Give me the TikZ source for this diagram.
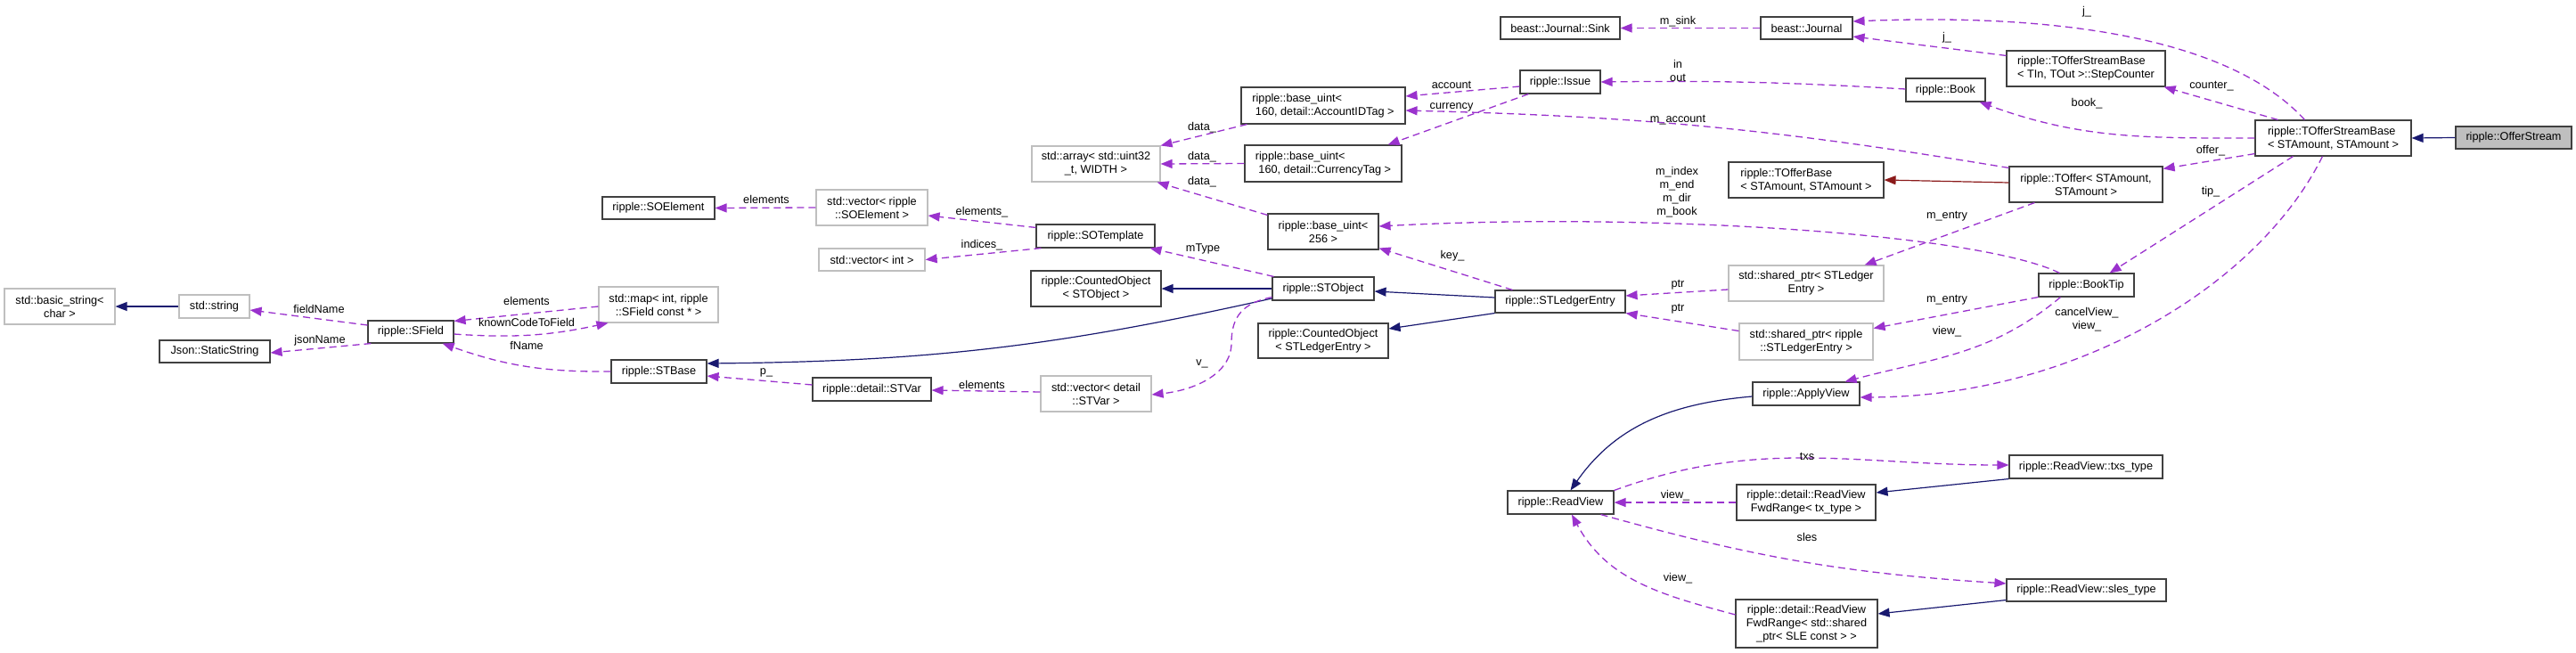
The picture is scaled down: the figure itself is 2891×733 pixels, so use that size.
\documentclass[tikz,border=0pt]{standalone}
\usepackage{fontspec}
\setmainfont{Liberation Sans}
\usetikzlibrary{arrows.meta}
\definecolor{navyc}{HTML}{191970}
\definecolor{purp}{HTML}{9A32CD}
\definecolor{fireb}{HTML}{8B1A1A}
\definecolor{greyl}{HTML}{BFBFBF}
\begin{document}
\begin{tikzpicture}[x=1pt,y=-1pt,
  every node/.style={font=\fontsize{12.7pt}{15pt}\selectfont},
  box/.style={draw=black!75, line width=1.1pt, fill=white, align=center, inner sep=2pt},
  gbox/.style={box, draw=greyl},
  lbox/.style={box, align=left},
  lbl/.style={inner sep=0pt, align=center},
  inh/.style={draw=navyc, line width=1.2pt, -{Triangle[length=13pt,width=10pt]}},
  usg/.style={draw=purp, line width=1.3pt, dash pattern=on 8pt off 5pt, -{Triangle[length=13pt,width=10pt]}},
  tpl/.style={draw=fireb, line width=1.2pt, -{Triangle[length=13pt,width=10pt]}}
]
\useasboundingbox (0,0) rectangle (2891,733);

% ---------------- nodes ----------------
\node[gbox, minimum width=124pt, minimum height=40pt] (bstr) at (67,344) {std::basic\_string<\\char >};
\node[gbox, minimum width=79pt, minimum height=26pt] (str) at (240.5,344) {std::string};
\node[box, minimum width=124pt, minimum height=25pt] (json) at (241,394.5) {Json::StaticString};
\node[box, minimum width=96pt, minimum height=25pt] (sfield) at (461,372.5) {ripple::SField};
\node[gbox, minimum width=134pt, minimum height=40pt] (smap) at (739,342) {std::map< int, ripple\\::SField const * >};
\node[box, minimum width=107pt, minimum height=26pt] (stbase) at (739.5,417) {ripple::STBase};
\node[box, minimum width=126pt, minimum height=25pt] (soel) at (739,233.5) {ripple::SOElement};
\node[gbox, minimum width=125pt, minimum height=40pt] (vsoel) at (978.5,233) {std::vector< ripple\\::SOElement >};
\node[gbox, minimum width=119pt, minimum height=25pt] (vint) at (978.5,291.5) {std::vector< int >};
\node[box, minimum width=133pt, minimum height=26pt] (sotmpl) at (1229.5,265) {ripple::SOTemplate};
\node[gbox, minimum width=144pt, minimum height=40pt] (arr) at (1230,184) {std::array< std::uint32\\\_t, WIDTH >};
\node[box, minimum width=146pt, minimum height=40pt] (cobj) at (1230,324) {ripple::CountedObject\\< STObject >};
\node[box, minimum width=133pt, minimum height=26pt] (stvar) at (978.5,437) {ripple::detail::STVar};
\node[gbox, minimum width=124pt, minimum height=40pt] (vstvar) at (1230,442) {std::vector< detail\\::STVar >};
\node[box, minimum width=114pt, minimum height=26pt] (stobj) at (1485,324) {ripple::STObject};
\node[box, minimum width=134pt, minimum height=25pt] (sink) at (1751,31.5) {beast::Journal::Sink};
\node[box, minimum width=103pt, minimum height=25pt] (journal) at (2027.5,31.5) {beast::Journal};
\node[box, minimum width=90pt, minimum height=26pt] (issue) at (1751,92) {ripple::Issue};
\node[lbox, minimum width=184pt, minimum height=41pt] (acct) at (1485,118.5) {ripple::base\_uint<\\\ 160, detail::AccountIDTag >};
\node[lbox, minimum width=176pt, minimum height=41pt] (curr) at (1485,183.5) {ripple::base\_uint<\\\ 160, detail::CurrencyTag >};
\node[box, minimum width=124pt, minimum height=40pt] (u256) at (1485,260) {ripple::base\_uint<\\256 >};
\node[box, minimum width=146pt, minimum height=25pt] (sle) at (1751,338.5) {ripple::STLedgerEntry};
\node[box, minimum width=146pt, minimum height=39pt] (cobjle) at (1485,382.5) {ripple::CountedObject\\< STLedgerEntry >};
\node[lbox, minimum width=174pt, minimum height=40pt] (tobase) at (2027,202) {ripple::TOfferBase\\< STAmount, STAmount >};
\node[gbox, minimum width=174pt, minimum height=40pt] (sptrle) at (2027,318) {std::shared\_ptr< STLedger\\Entry >};
\node[gbox, minimum width=150pt, minimum height=41pt] (sptrrle) at (2027,383.5) {std::shared\_ptr< ripple\\::STLedgerEntry >};
\node[box, minimum width=89pt, minimum height=26pt] (book) at (2183.5,101) {ripple::Book};
\node[lbox, minimum width=178pt, minimum height=40pt] (stepc) at (2341,77) {ripple::TOfferStreamBase\\< TIn, TOut >::StepCounter};
\node[lbox, minimum width=175pt, minimum height=40pt] (tosb) at (2618.5,155) {ripple::TOfferStreamBase\\< STAmount, STAmount >};
\node[box, fill=greyl, minimum width=130pt, minimum height=25pt] (ostream) at (2821,154.5) {ripple::OfferStream};
\node[box, minimum width=172pt, minimum height=40pt] (toffer) at (2341,207) {ripple::TOffer< STAmount,\\STAmount >};
\node[box, minimum width=107pt, minimum height=26pt] (booktip) at (2341.5,320) {ripple::BookTip};
\node[box, minimum width=120pt, minimum height=26pt] (applyv) at (2027,442) {ripple::ApplyView};
\node[box, minimum width=119pt, minimum height=26pt] (readv) at (1751.5,564) {ripple::ReadView};
\node[box, minimum width=156pt, minimum height=40pt] (fwdtx) at (2027,564) {ripple::detail::ReadView\\FwdRange< tx\_type >};
\node[box, minimum width=172pt, minimum height=26pt] (txst) at (2341,524) {ripple::ReadView::txs\_type};
\node[box, minimum width=179pt, minimum height=25pt] (slest) at (2341.5,662.5) {ripple::ReadView::sles\_type};
\node[box, minimum width=159pt, minimum height=54pt] (fwdsle) at (2027.5,700) {ripple::detail::ReadView\\FwdRange< std::shared\\\_ptr< SLE const > >};

% ---------------- edges ----------------
\draw[inh] (str.west) -- (bstr.east);
\draw[usg] ([yshift=7.5pt]sfield.west) -- ([yshift=-4pt]str.east);
\draw[usg] ([xshift=4pt]sfield.south west) -- ([yshift=-1.5pt]json.east);
\draw[usg] ([yshift=-2pt]smap.west) -- ([yshift=-1pt]sfield.north east);
\draw[usg] ([yshift=-2.5pt]sfield.east) to[bend right=8] ([xshift=11pt]smap.south west);
\draw[usg] (stbase.west) to[bend left=10] ([xshift=-13pt]sfield.south east);
\draw[usg] (vsoel.west) -- (soel.east);
\draw[usg] ([yshift=-4pt]sotmpl.north west) -- ([yshift=-9pt]vsoel.east);
\draw[usg] ([xshift=6pt]sotmpl.south west) -- (vint.east);
\draw[usg] ([xshift=2pt]stobj.north west) -- ([xshift=-6pt]sotmpl.south east);
\draw[inh] (stobj.west) -- (cobj.east);
\draw[inh] ([yshift=-11pt]stobj.west) to[bend left=6] ([yshift=9pt]stbase.east);
\draw[usg] ([yshift=5pt]stvar.west) -- ([yshift=-5pt]stbase.east);
\draw[usg] ([yshift=2pt]vstvar.west) -- ([yshift=-1pt]stvar.east);
\draw[usg] ([yshift=4pt]stobj.south west) .. controls (1395,340) and (1382,355) .. (1382,385)
   .. controls (1382,420) and (1340,438) .. ([yshift=-1pt]vstvar.east);
\draw[usg] ([xshift=7pt]acct.south west) -- (arr.north east);
\draw[usg] (curr.west) -- (arr.east);
\draw[usg] ([yshift=-2pt]u256.north west) -- ([xshift=-4pt]arr.south east);
\draw[usg] (journal.west) -- (sink.east);
\draw[usg] ([yshift=1pt]book.west) to[bend right=2] (issue.east);
\draw[usg] ([yshift=-5pt]issue.west) -- ([yshift=10.5pt]acct.east);
\draw[usg] ([xshift=10pt]issue.south west) -- ([xshift=-16pt]curr.north east);
\draw[usg] ([yshift=-2pt]toffer.north west) to[bend right=4] ([yshift=-5.5pt]acct.east);
\draw[tpl] ([yshift=2pt]toffer.west) -- (tobase.east);
\draw[usg] ([xshift=24pt]booktip.north west) .. controls (2220,262) and (1850,238) .. ([yshift=6pt]u256.east);
\draw[usg] ([xshift=20pt]sle.north west) -- ([yshift=2pt]u256.south east);
\draw[inh] ([yshift=4.5pt]sle.west) -- ([yshift=-3pt]stobj.east);
\draw[inh] (sle.south west) -- ([yshift=13.5pt]cobjle.east);
\draw[usg] ([yshift=-7pt]sptrle.west) -- ([yshift=6.5pt]sle.east);
\draw[usg] ([yshift=12pt]sptrrle.west) -- (sle.south east);
\draw[usg] ([xshift=29pt]toffer.south west) -- ([xshift=-22pt]sptrle.north east);
\draw[usg] (booktip.south west) -- ([yshift=15pt]sptrrle.east);
\draw[usg] ([xshift=25pt]booktip.south west) to[out=220,in=15] ([xshift=-17pt]applyv.north east);
\draw[usg] ([xshift=76pt]tosb.south west) .. controls (2535,320) and (2330,445) .. ([yshift=-4pt]applyv.east);
\draw[usg] ([xshift=26pt]tosb.north west) -- ([xshift=-2pt]stepc.south east);
\draw[usg] ([xshift=56pt]tosb.north west) .. controls (2500,40) and (2300,15) .. ([yshift=7.5pt]journal.east);
\draw[usg] ([yshift=-6pt]stepc.north west) -- ([yshift=-9.5pt]journal.east);
\draw[usg] (tosb.west) to[out=180,in=-20] ([xshift=-7pt]book.south east);
\draw[usg] ([yshift=3pt]tosb.south west) -- ([yshift=-3pt]toffer.north east);
\draw[usg] ([xshift=43pt]tosb.south west) -- ([xshift=-28pt]booktip.north east);
\draw[inh] (ostream.west) -- (tosb.east);
\draw[inh] ([yshift=-3pt]applyv.west) to[out=185,in=55] ([xshift=11pt]readv.north);
\draw[usg] (readv.north east) to[out=20,in=180] ([yshift=2pt]txst.west);
\draw[inh] (txst.south west) -- ([yshift=11pt]fwdtx.east);
\draw[usg] (fwdtx.west) -- (readv.east);
\draw[usg] ([xshift=-15pt]readv.south east) to[bend right=6] ([yshift=7.5pt]slest.west);
\draw[inh] ([yshift=2pt]slest.south west) -- ([yshift=11pt]fwdsle.east);
\draw[usg] ([yshift=10pt]fwdsle.west) to[out=165,in=-62] ([xshift=12.5pt]readv.south);

% ---------------- labels ----------------
\node[lbl] (l1) at (358,347) {fieldName};
\node[lbl] (l2) at (359,382) {jsonName};
\node[lbl] (l3) at (591,338) {elements};
\node[lbl] (l4) at (591,362) {knownCodeToField};
\node[lbl] (l5) at (591,388) {fName};
\node[lbl] (l6) at (860,224) {elements};
\node[lbl] (l7) at (1102,238) {elements\_};
\node[lbl] (l8) at (1102,275) {indices\_};
\node[lbl] (l9) at (1350,279) {mType};
\node[lbl] (l10) at (1349,143) {data\_};
\node[lbl] (l11) at (1349,176) {data\_};
\node[lbl] (l12) at (1349,204) {data\_};
\node[lbl] (l13) at (860,418) {p\_};
\node[lbl] (l14) at (1102,432) {elements};
\node[lbl] (l15) at (1349,408) {v\_};
\node[lbl] (l16) at (1883,24) {m\_sink};
\node[lbl] (l17) at (1883,79) {in\\out};
\node[lbl] (l18) at (1629,95) {account};
\node[lbl] (l19) at (1629,120) {currency};
\node[lbl] (l20) at (1883,135) {m\_account};
\node[lbl] (l21) at (1882,216) {m\_index\\m\_end\\m\_dir\\m\_book};
\node[lbl] (l22) at (1630,287) {key\_};
\node[lbl] (l23) at (1883,320) {ptr};
\node[lbl] (l24) at (1883,347) {ptr};
\node[lbl] (l25) at (2185,243) {m\_entry};
\node[lbl] (l26) at (2185,337) {m\_entry};
\node[lbl] (l27) at (2185,372) {view\_};
\node[lbl] (l28) at (2342,359) {cancelView\_\\view\_};
\node[lbl] (l29) at (2482,97) {counter\_};
\node[lbl] (l30) at (2342,13) {j\_};
\node[lbl] (l31) at (2185,42) {j\_};
\node[lbl] (l32) at (2342,116) {book\_};
\node[lbl] (l33) at (2481,169) {offer\_};
\node[lbl] (l34) at (2481,215) {tip\_};
\node[lbl] (l35) at (2028,512) {txs};
\node[lbl] (l36) at (1880,556) {view\_};
\node[lbl] (l37) at (2028,603) {sles};
\node[lbl] (l38) at (1883,649) {view\_};
\end{tikzpicture}
\end{document}
